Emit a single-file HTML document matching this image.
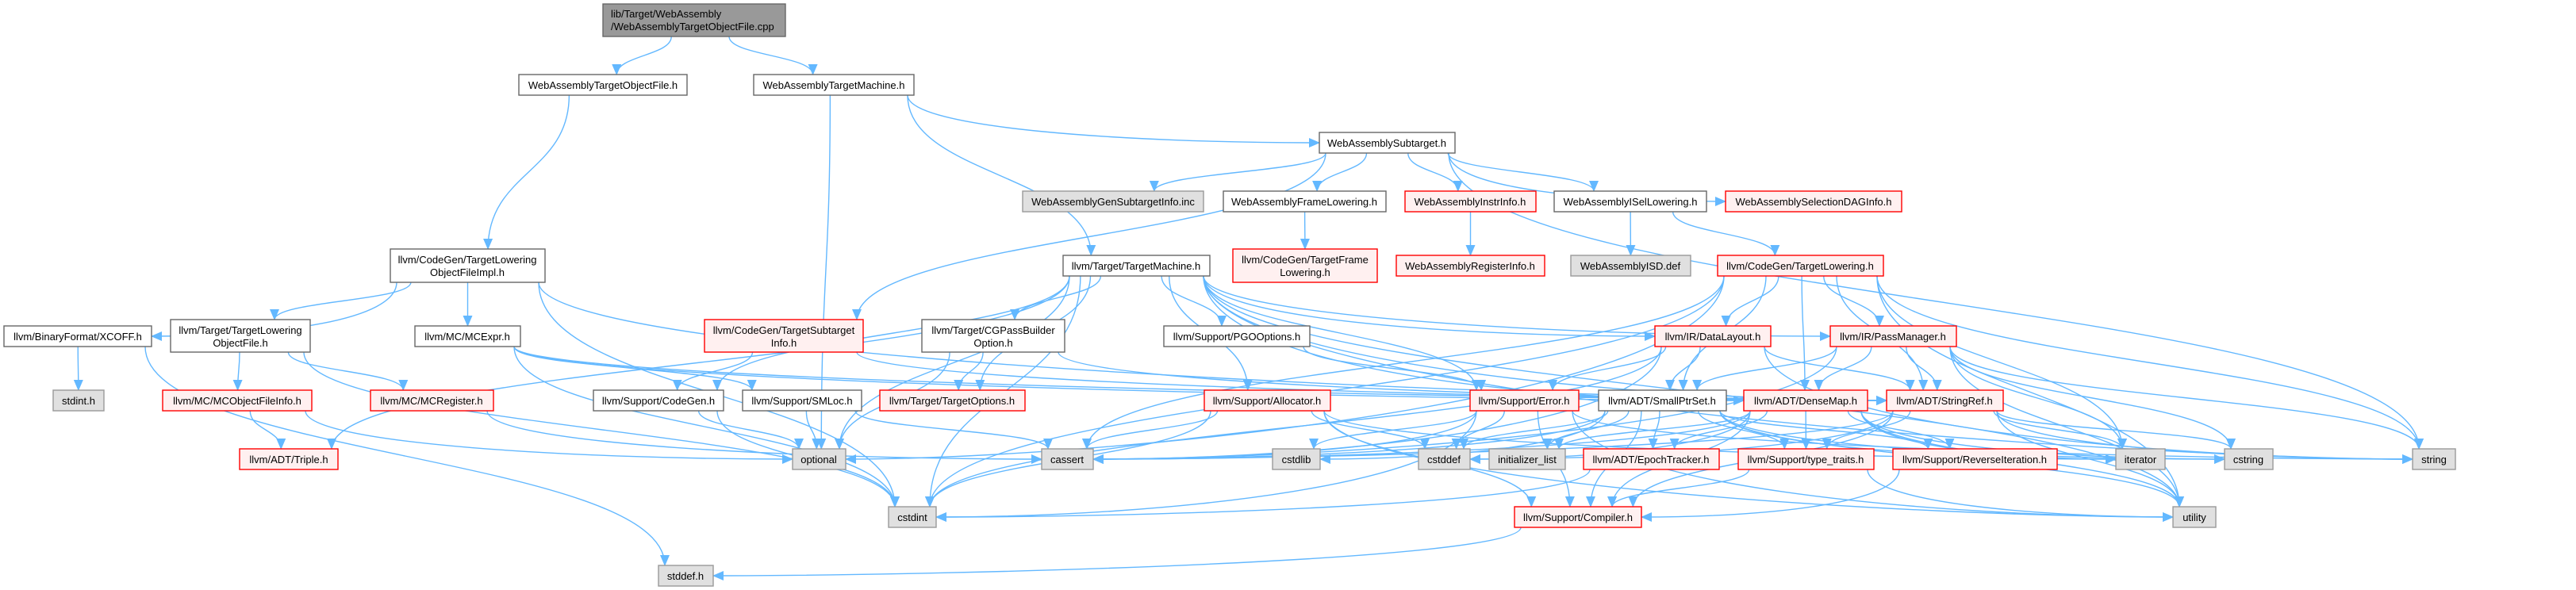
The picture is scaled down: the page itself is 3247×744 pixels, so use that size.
<!DOCTYPE html>
<html><head><meta charset="utf-8">
<style>
html,body{margin:0;padding:0;background:#fff;}
svg{display:block;}
text{font-family:"Liberation Sans",Arial,sans-serif;font-size:13px;fill:#000;}
</style></head>
<body>
<svg id="g" width="3247" height="744" viewBox="0 0 3247 744" xmlns="http://www.w3.org/2000/svg">
<defs>
<marker id="ah" markerUnits="userSpaceOnUse" markerWidth="14" markerHeight="12" refX="13" refY="6" orient="auto">
<path d="M0,0 L14,6 L0,12 z" fill="#63B8FF"/>
</marker>
</defs>
<g id="edges" fill="none" stroke="#63B8FF" stroke-width="1.4"></g>
<g id="nodes">
<rect x="760" y="5" width="230" height="41" fill="#999" stroke="#666" stroke-width="1.4"/><text x="770" y="22">lib/Target/WebAssembly</text><text x="770" y="38">/WebAssemblyTargetObjectFile.cpp</text>
<rect x="654" y="94" width="212" height="26" fill="#fff" stroke="#666" stroke-width="1.4"/><text x="760" y="112" text-anchor="middle">WebAssemblyTargetObjectFile.h</text>
<rect x="950" y="94" width="202" height="26" fill="#fff" stroke="#666" stroke-width="1.4"/><text x="1051" y="112" text-anchor="middle">WebAssemblyTargetMachine.h</text>
<rect x="1663" y="167" width="171" height="26" fill="#fff" stroke="#666" stroke-width="1.4"/><text x="1748" y="185" text-anchor="middle">WebAssemblySubtarget.h</text>
<rect x="1289" y="241" width="228" height="26" fill="#e0e0e0" stroke="#999" stroke-width="1.4"/><text x="1403" y="259" text-anchor="middle">WebAssemblyGenSubtargetInfo.inc</text>
<rect x="1542" y="241" width="205" height="26" fill="#fff" stroke="#666" stroke-width="1.4"/><text x="1644" y="259" text-anchor="middle">WebAssemblyFrameLowering.h</text>
<rect x="1771" y="241" width="165" height="26" fill="#fff0f0" stroke="#f00" stroke-width="1.4"/><text x="1853" y="259" text-anchor="middle">WebAssemblyInstrInfo.h</text>
<rect x="1959" y="241" width="192" height="26" fill="#fff" stroke="#666" stroke-width="1.4"/><text x="2055" y="259" text-anchor="middle">WebAssemblyISelLowering.h</text>
<rect x="2175" y="241" width="222" height="26" fill="#fff0f0" stroke="#f00" stroke-width="1.4"/><text x="2286" y="259" text-anchor="middle">WebAssemblySelectionDAGInfo.h</text>
<rect x="492" y="314" width="195" height="42" fill="#fff" stroke="#666" stroke-width="1.4"/><text x="589" y="332" text-anchor="middle">llvm/CodeGen/TargetLowering</text><text x="589" y="348" text-anchor="middle">ObjectFileImpl.h</text>
<rect x="1340" y="322" width="185" height="26" fill="#fff" stroke="#666" stroke-width="1.4"/><text x="1432" y="340" text-anchor="middle">llvm/Target/TargetMachine.h</text>
<rect x="1554" y="314" width="182" height="42" fill="#fff0f0" stroke="#f00" stroke-width="1.4"/><text x="1645" y="332" text-anchor="middle">llvm/CodeGen/TargetFrame</text><text x="1645" y="348" text-anchor="middle">Lowering.h</text>
<rect x="1760" y="322" width="187" height="26" fill="#fff0f0" stroke="#f00" stroke-width="1.4"/><text x="1853" y="340" text-anchor="middle">WebAssemblyRegisterInfo.h</text>
<rect x="1980" y="322" width="151" height="26" fill="#e0e0e0" stroke="#999" stroke-width="1.4"/><text x="2055" y="340" text-anchor="middle">WebAssemblyISD.def</text>
<rect x="2165" y="322" width="209" height="26" fill="#fff0f0" stroke="#f00" stroke-width="1.4"/><text x="2269" y="340" text-anchor="middle">llvm/CodeGen/TargetLowering.h</text>
<rect x="5" y="411" width="186" height="26" fill="#fff" stroke="#666" stroke-width="1.4"/><text x="98" y="429" text-anchor="middle">llvm/BinaryFormat/XCOFF.h</text>
<rect x="215" y="403" width="176" height="41" fill="#fff" stroke="#666" stroke-width="1.4"/><text x="303" y="421" text-anchor="middle">llvm/Target/TargetLowering</text><text x="303" y="437" text-anchor="middle">ObjectFile.h</text>
<rect x="523" y="411" width="133" height="26" fill="#fff" stroke="#666" stroke-width="1.4"/><text x="589" y="429" text-anchor="middle">llvm/MC/MCExpr.h</text>
<rect x="888" y="403" width="200" height="41" fill="#fff0f0" stroke="#f00" stroke-width="1.4"/><text x="988" y="421" text-anchor="middle">llvm/CodeGen/TargetSubtarget</text><text x="988" y="437" text-anchor="middle">Info.h</text>
<rect x="1162" y="403" width="180" height="41" fill="#fff" stroke="#666" stroke-width="1.4"/><text x="1252" y="421" text-anchor="middle">llvm/Target/CGPassBuilder</text><text x="1252" y="437" text-anchor="middle">Option.h</text>
<rect x="1467" y="411" width="184" height="26" fill="#fff" stroke="#666" stroke-width="1.4"/><text x="1559" y="429" text-anchor="middle">llvm/Support/PGOOptions.h</text>
<rect x="2086" y="411" width="146" height="26" fill="#fff0f0" stroke="#f00" stroke-width="1.4"/><text x="2159" y="429" text-anchor="middle">llvm/IR/DataLayout.h</text>
<rect x="2307" y="411" width="159" height="26" fill="#fff0f0" stroke="#f00" stroke-width="1.4"/><text x="2386" y="429" text-anchor="middle">llvm/IR/PassManager.h</text>
<rect x="67" y="492" width="64" height="26" fill="#e0e0e0" stroke="#999" stroke-width="1.4"/><text x="99" y="510" text-anchor="middle">stdint.h</text>
<rect x="205" y="492" width="188" height="26" fill="#fff0f0" stroke="#f00" stroke-width="1.4"/><text x="299" y="510" text-anchor="middle">llvm/MC/MCObjectFileInfo.h</text>
<rect x="467" y="492" width="155" height="26" fill="#fff0f0" stroke="#f00" stroke-width="1.4"/><text x="544" y="510" text-anchor="middle">llvm/MC/MCRegister.h</text>
<rect x="748" y="492" width="164" height="26" fill="#fff" stroke="#666" stroke-width="1.4"/><text x="830" y="510" text-anchor="middle">llvm/Support/CodeGen.h</text>
<rect x="936" y="492" width="150" height="26" fill="#fff" stroke="#666" stroke-width="1.4"/><text x="1011" y="510" text-anchor="middle">llvm/Support/SMLoc.h</text>
<rect x="1109" y="492" width="183" height="26" fill="#fff0f0" stroke="#f00" stroke-width="1.4"/><text x="1200" y="510" text-anchor="middle">llvm/Target/TargetOptions.h</text>
<rect x="1518" y="492" width="159" height="26" fill="#fff0f0" stroke="#f00" stroke-width="1.4"/><text x="1597" y="510" text-anchor="middle">llvm/Support/Allocator.h</text>
<rect x="1853" y="492" width="137" height="26" fill="#fff0f0" stroke="#f00" stroke-width="1.4"/><text x="1921" y="510" text-anchor="middle">llvm/Support/Error.h</text>
<rect x="2015" y="492" width="161" height="26" fill="#fff" stroke="#666" stroke-width="1.4"/><text x="2095" y="510" text-anchor="middle">llvm/ADT/SmallPtrSet.h</text>
<rect x="2198" y="492" width="156" height="26" fill="#fff0f0" stroke="#f00" stroke-width="1.4"/><text x="2276" y="510" text-anchor="middle">llvm/ADT/DenseMap.h</text>
<rect x="2378" y="492" width="147" height="26" fill="#fff0f0" stroke="#f00" stroke-width="1.4"/><text x="2451" y="510" text-anchor="middle">llvm/ADT/StringRef.h</text>
<rect x="302" y="566" width="124" height="26" fill="#fff0f0" stroke="#f00" stroke-width="1.4"/><text x="364" y="584" text-anchor="middle">llvm/ADT/Triple.h</text>
<rect x="999" y="566" width="67" height="26" fill="#e0e0e0" stroke="#999" stroke-width="1.4"/><text x="1032" y="584" text-anchor="middle">optional</text>
<rect x="1313" y="566" width="65" height="26" fill="#e0e0e0" stroke="#999" stroke-width="1.4"/><text x="1345" y="584" text-anchor="middle">cassert</text>
<rect x="1604" y="566" width="60" height="26" fill="#e0e0e0" stroke="#999" stroke-width="1.4"/><text x="1634" y="584" text-anchor="middle">cstdlib</text>
<rect x="1788" y="566" width="65" height="26" fill="#e0e0e0" stroke="#999" stroke-width="1.4"/><text x="1820" y="584" text-anchor="middle">cstddef</text>
<rect x="1877" y="566" width="96" height="26" fill="#e0e0e0" stroke="#999" stroke-width="1.4"/><text x="1925" y="584" text-anchor="middle">initializer_list</text>
<rect x="1996" y="566" width="171" height="26" fill="#fff0f0" stroke="#f00" stroke-width="1.4"/><text x="2081" y="584" text-anchor="middle">llvm/ADT/EpochTracker.h</text>
<rect x="2191" y="566" width="171" height="26" fill="#fff0f0" stroke="#f00" stroke-width="1.4"/><text x="2276" y="584" text-anchor="middle">llvm/Support/type_traits.h</text>
<rect x="2386" y="566" width="207" height="26" fill="#fff0f0" stroke="#f00" stroke-width="1.4"/><text x="2489" y="584" text-anchor="middle">llvm/Support/ReverseIteration.h</text>
<rect x="2667" y="566" width="62" height="26" fill="#e0e0e0" stroke="#999" stroke-width="1.4"/><text x="2698" y="584" text-anchor="middle">iterator</text>
<rect x="2804" y="566" width="61" height="26" fill="#e0e0e0" stroke="#999" stroke-width="1.4"/><text x="2834" y="584" text-anchor="middle">cstring</text>
<rect x="3041" y="566" width="54" height="26" fill="#e0e0e0" stroke="#999" stroke-width="1.4"/><text x="3068" y="584" text-anchor="middle">string</text>
<rect x="1120" y="639" width="60" height="26" fill="#e0e0e0" stroke="#999" stroke-width="1.4"/><text x="1150" y="657" text-anchor="middle">cstdint</text>
<rect x="1909" y="639" width="160" height="26" fill="#fff0f0" stroke="#f00" stroke-width="1.4"/><text x="1989" y="657" text-anchor="middle">llvm/Support/Compiler.h</text>
<rect x="2739" y="639" width="54" height="26" fill="#e0e0e0" stroke="#999" stroke-width="1.4"/><text x="2766" y="657" text-anchor="middle">utility</text>
<rect x="830" y="713" width="69" height="26" fill="#e0e0e0" stroke="#999" stroke-width="1.4"/><text x="864" y="731" text-anchor="middle">stddef.h</text>
</g>
</svg>
<script>
var N={root:[760,990,5,46],tof:[654,866,94,120],watm:[950,1152,94,120],sub:[1663,1834,167,193],gen:[1289,1517,241,267],fl:[1542,1747,241,267],ii:[1771,1936,241,267],isel:[1959,2151,241,267],sdag:[2175,2397,241,267],tlofi:[492,687,314,356],tm:[1340,1525,322,348],tfl:[1554,1736,314,356],ri:[1760,1947,322,348],isd:[1980,2131,322,348],tl:[2165,2374,322,348],xcoff:[5,191,411,437],tlof:[215,391,403,444],mcexpr:[523,656,411,437],tsi:[888,1088,403,444],cgpb:[1162,1342,403,444],pgo:[1467,1651,411,437],dl:[2086,2232,411,437],pm:[2307,2466,411,437],stdint:[67,131,492,518],mcofi:[205,393,492,518],mcreg:[467,622,492,518],cg:[748,912,492,518],smloc:[936,1086,492,518],topt:[1109,1292,492,518],alloc:[1518,1677,492,518],err:[1853,1990,492,518],sps:[2015,2176,492,518],dm:[2198,2354,492,518],sr:[2378,2525,492,518],triple:[302,426,566,592],optional:[999,1066,566,592],cassert:[1313,1378,566,592],cstdlib:[1604,1664,566,592],cstddef:[1788,1853,566,592],il:[1877,1973,566,592],et:[1996,2167,566,592],tt:[2191,2362,566,592],rev:[2386,2593,566,592],iter:[2667,2729,566,592],cstring:[2804,2865,566,592],string:[3041,3095,566,592],cstdint:[1120,1180,639,665],comp:[1909,2069,639,665],utility:[2739,2793,639,665],stddef:[830,899,713,739]};
var E="root>tof root>watm tof>tlofi watm>optional watm>sub watm>tm sub>gen sub>fl sub>ii sub>isel sub>sdag sub>tsi sub>string fl>tfl ii>ri isel>isd isel>tl tlofi>xcoff tlofi>tlof tlofi>mcexpr tlofi>sr tlofi>cstdint xcoff>stdint xcoff>stddef tlof>mcofi tlof>mcreg tlof>cstdint mcofi>triple mcofi>optional mcreg>cassert mcexpr>smloc mcexpr>cstdint mcexpr>sr mcexpr>dm tsi>cg tsi>sr cg>optional cg>cstdint smloc>optional smloc>cassert tm>cg tm>topt tm>cgpb tm>pgo tm>alloc tm>err tm>dl tm>pm tm>sr tm>dm tm>triple tm>optional tm>string tm>utility tm>cstdint cgpb>topt cgpb>optional cgpb>sr pgo>err tl>dl tl>pm tl>dm tl>sr tl>sps tl>iter tl>string tl>utility tl>cstdint tl>cassert tl>optional dl>sr dl>sps dl>err dl>string dl>cassert dl>cstdint pm>dm pm>sr pm>sps pm>iter pm>cstring pm>string pm>utility pm>cassert alloc>cassert alloc>cstdint alloc>cstddef alloc>utility alloc>comp alloc>iter err>cassert err>cstdint err>cstdlib err>comp err>string err>utility err>cstddef sps>et sps>tt sps>rev sps>comp sps>cassert sps>cstddef sps>cstdlib sps>cstring sps>il sps>iter sps>utility dm>et dm>tt dm>rev dm>comp dm>cassert dm>cstddef dm>il dm>iter dm>utility dm>cstring sr>comp sr>iter sr>cstring sr>string sr>utility sr>cstddef sr>tt sr>cassert et>cstdint tt>comp tt>utility comp>stddef rev>comp".split(" ");
var g=document.getElementById("edges"),ns="http://www.w3.org/2000/svg";
E.forEach(function(e){var p=e.split(">"),s=N[p[0]],t=N[p[1]];if(!s||!t)return;
var scx=(s[0]+s[1])/2,tcx=(t[0]+t[1])/2;
var sx=Math.max(s[0]+8,Math.min(s[1]-8,scx+(tcx-scx)*0.25));var sy=s[3];
var dx=tcx-sx,dy=t[2]-sy,tx,ty,d;
if(Math.abs(dx)>4*Math.abs(t[2]-sy)+150){ty=(t[2]+t[3])/2;tx=dx>0?t[0]:t[1];
d="M"+sx+","+sy+" C"+sx+","+(sy+(ty-sy)*0.7)+" "+(tx-(dx>0?1:-1)*Math.min(300,Math.abs(dx)*0.4))+","+ty+" "+tx+","+ty;}
else{tx=Math.max(t[0]+8,Math.min(t[1]-8,tcx-(tcx-scx)*0.15));ty=t[2];
d="M"+sx+","+sy+" C"+sx+","+(sy+dy*0.5)+" "+tx+","+(ty-dy*0.5)+" "+tx+","+ty;}
var el=document.createElementNS(ns,"path");el.setAttribute("d",d);el.setAttribute("marker-end","url(#ah)");g.appendChild(el);});
</script>
</body></html>
